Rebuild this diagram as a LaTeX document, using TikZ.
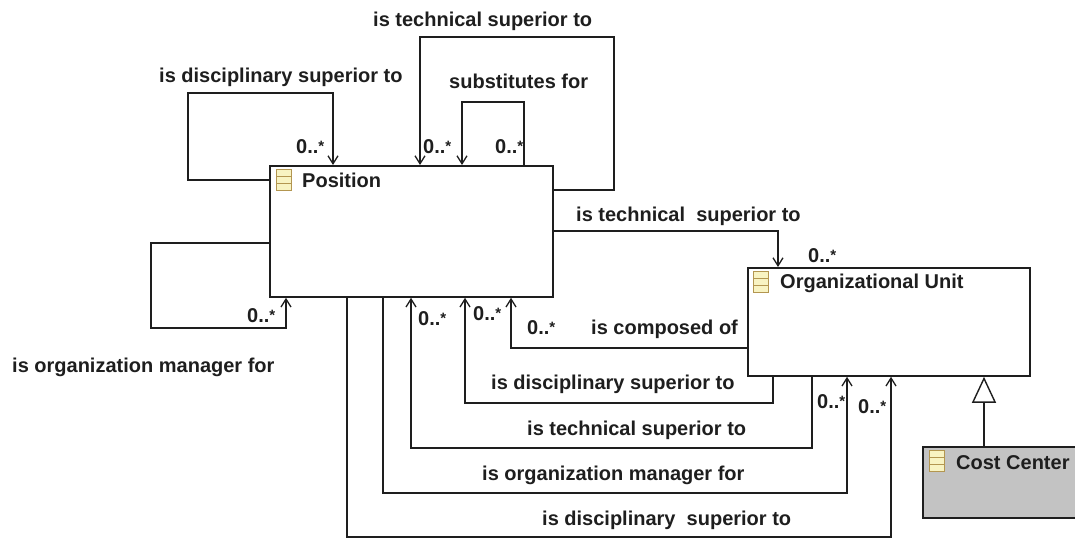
\documentclass[tikz,border=0pt]{standalone}
\usepackage{fontspec}
\setmainfont{Liberation Sans}
\usetikzlibrary{arrows.meta,calc}

\definecolor{linecol}{HTML}{1E1E1E}
\definecolor{iconfill}{HTML}{F8F3C2}
\definecolor{icondraw}{HTML}{B39650}
\definecolor{ccfill}{HTML}{C3C3C3}

% multiplicity text with a small raised star
\newcommand\multzero{0..{\fontsize{15}{15}\selectfont\raisebox{2pt}{*}}}

\begin{document}
\begin{tikzpicture}[x=1pt,y=-1pt,
  font=\fontsize{20}{24}\selectfont\bfseries,
  cls/.style={draw=linecol, line width=1.8pt, fill=white, rectangle,
    inner sep=0pt, anchor=north west},
  iconbox/.style={draw=icondraw, line width=1.2pt, fill=iconfill, rectangle,
    inner sep=0pt, minimum width=15pt, minimum height=21pt,
    path picture={
      \draw[icondraw, line width=1pt]
        ($(path picture bounding box.south west)!0.333!(path picture bounding box.north west)$)
          -- ($(path picture bounding box.south east)!0.333!(path picture bounding box.north east)$)
        ($(path picture bounding box.south west)!0.667!(path picture bounding box.north west)$)
          -- ($(path picture bounding box.south east)!0.667!(path picture bounding box.north east)$);
    }},
  lbl/.style={anchor=base west, inner sep=0pt, text=linecol},
  assoc/.style={draw=linecol, line width=1.4pt,
    -{Straight Barb[length=8pt,width=10pt,line width=1.3pt]}},
  gen/.style={draw=linecol, line width=1.4pt,
    -{Triangle[open,length=26pt,width=24pt,line width=1.4pt,fill=white]}}
]
\useasboundingbox (0,0) rectangle (1075,539);

% classes
\node[cls, minimum width=283pt, minimum height=131pt] (pos) at (269,165) {};
\node[cls, minimum width=282pt, minimum height=108pt] (ou) at (747,267) {};
\node[cls, fill=ccfill, minimum width=160pt, minimum height=71pt] (cc) at (922,446) {};

% class headers
\node[iconbox] (posicon) at (284,180) {};
\node[lbl] (postitle) at (302,187) {Position};
\node[iconbox] (ouicon) at (761,282) {};
\node[lbl] (outitle) at (780,288) {Organizational Unit};
\node[iconbox] (ccicon) at (937,461) {};
\node[lbl] (cctitle) at (956,469) {Cost Center};

% self associations of Position
\draw[assoc] (pos.west |- 0,180) -- (188,180) -- (188,93) -- (333,93) -- (pos.north -| 333,0);
\draw[assoc] (pos.east |- 0,190) -- (614,190) -- (614,37) -- (420,37) -- (pos.north -| 420,0);
\draw[assoc] (pos.north -| 524,0) -- (524,102) -- (462,102) -- (pos.north -| 462,0);
\draw[assoc] (pos.west |- 0,243) -- (151,243) -- (151,328) -- (286,328) -- (pos.south -| 286,0);

% associations between Position and Organizational Unit
\draw[assoc] (pos.east |- 0,231) -- (778,231) -- (ou.north -| 778,0);
\draw[assoc] (ou.west |- 0,348) -- (511,348) -- (pos.south -| 511,0);
\draw[assoc] (ou.south -| 773,0) -- (773,403) -- (465,403) -- (pos.south -| 465,0);
\draw[assoc] (ou.south -| 812,0) -- (812,448) -- (411,448) -- (pos.south -| 411,0);
\draw[assoc] (pos.south -| 383,0) -- (383,493) -- (847,493) -- (ou.south -| 847,0);
\draw[assoc] (pos.south -| 347,0) -- (347,537) -- (891,537) -- (ou.south -| 891,0);

% generalization
\draw[gen] (cc.north -| 984,0) -- (ou.south -| 984,0);

% association labels
\node[lbl] (l1) at (159,82) {is disciplinary superior to};
\node[lbl] (l2) at (373,26) {is technical superior to};
\node[lbl] (l3) at (449,88) {substitutes for};
\node[lbl] (l4) at (12,372) {is organization manager for};
\node[lbl] (l5) at (576,221) {is technical\ \ superior to};
\node[lbl] (l6) at (591,334) {is composed of};
\node[lbl] (l7) at (491,389) {is disciplinary superior to};
\node[lbl] (l8) at (527,435) {is technical superior to};
\node[lbl] (l9) at (482,480) {is organization manager for};
\node[lbl] (l10) at (542,525) {is disciplinary\ \ superior to};

% multiplicities
\node[lbl] (m1) at (296,153) {\multzero};
\node[lbl] (m2) at (423,153) {\multzero};
\node[lbl] (m3) at (495,153) {\multzero};
\node[lbl] (m4) at (247,322) {\multzero};
\node[lbl] (m5) at (808,262) {\multzero};
\node[lbl] (m6) at (527,334) {\multzero};
\node[lbl] (m7) at (418,325) {\multzero};
\node[lbl] (m8) at (473,320) {\multzero};
\node[lbl] (m9) at (817,408) {\multzero};
\node[lbl] (m10) at (858,413) {\multzero};
\end{tikzpicture}
\end{document}
